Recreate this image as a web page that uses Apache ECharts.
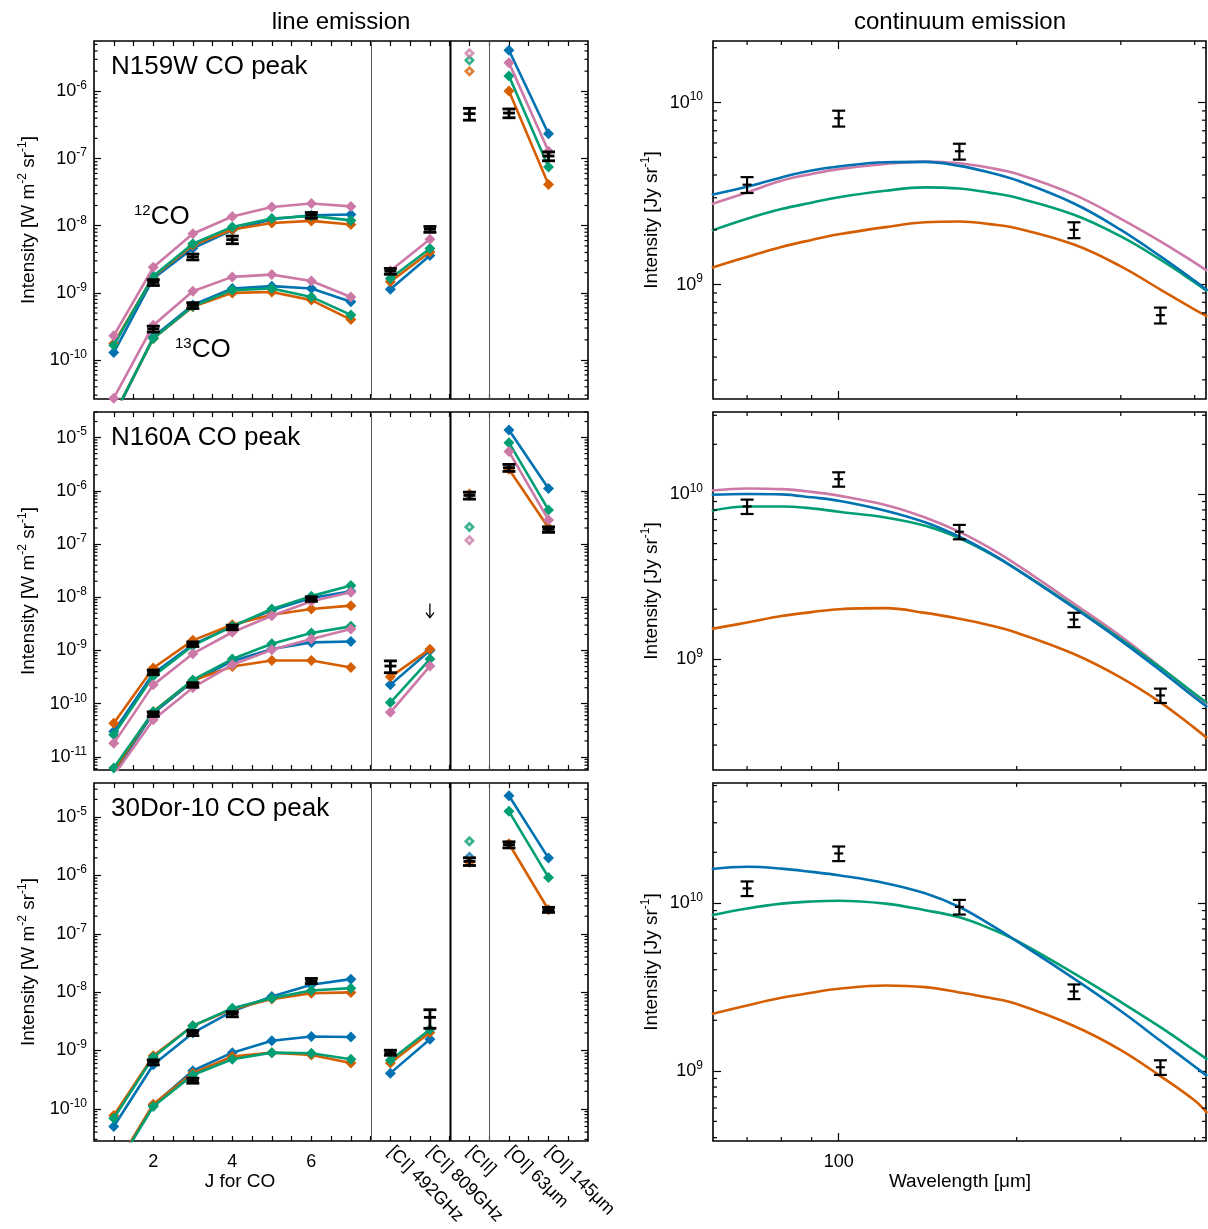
<!DOCTYPE html>
<html>
<head>
<meta charset="utf-8">
<script src="https://cdn.jsdelivr.net/npm/echarts@6/dist/echarts.min.js"></script>
<style>
  html, body { margin: 0; padding: 0; background: #fff; }
  #chart { width: 1208px; height: 1229px; }
</style>
</head>
<body>
<div id="chart"></div>
<script>
// ---------- shared categories ----------
const modelColors = ['#0072B2', '#D55E00', '#009E73', '#CC79A7']; // blue, orange, green, pink models
const coJ = [1, 2, 3, 4, 5, 6, 7];
const ciPos = [8, 9];
const ciiPos = 10;
const oiPos = [11, 12];
const jTickLabels = [2, 4, 6];
const lineLabelPos = [8, 9, 10, 11, 12];
const lineLabels = ['[CI] 492GHz', '[CI] 809GHz', '[CII]', '[OI] 63μm', '[OI] 145μm'];
const rowTitles = ['N159W CO peak', 'N160A CO peak', '30Dor-10 CO peak'];

// ---------- N159W: line intensities [W m^-2 sr^-1] ----------
const n159wCO12 = [
  [1.29e-10, 1.64e-9, 4.6e-9, 8.6e-9, 1.25e-8, 1.43e-8, 1.47e-8],
  [1.77e-10, 1.74e-9, 5.1e-9, 8.8e-9, 1.1e-8, 1.18e-8, 1.04e-8],
  [1.66e-10, 1.78e-9, 5.4e-9, 9.6e-9, 1.28e-8, 1.4e-8, 1.2e-8],
  [2.3e-10, 2.4e-9, 7.6e-9, 1.37e-8, 1.9e-8, 2.14e-8, 1.94e-8]
];
const n159wCO13 = [
  [1.4e-11, 2.2e-10, 6.6e-10, 1.16e-9, 1.26e-9, 1.16e-9, 7.4e-10],
  [1.5e-11, 2.1e-10, 6.2e-10, 1.0e-9, 1.03e-9, 7.8e-10, 4.0e-10],
  [1.5e-11, 2.1e-10, 6.3e-10, 1.1e-9, 1.16e-9, 8.7e-10, 4.7e-10],
  [2.7e-11, 3.3e-10, 1.06e-9, 1.73e-9, 1.87e-9, 1.5e-9, 8.7e-10]
];
const n159wCI = [[1.13e-9, 3.6e-9], [1.46e-9, 4.07e-9], [1.64e-9, 4.57e-9], [2.13e-9, 6.3e-9]];
const n159wCII = [null, 2.0e-6, 2.9e-6, 3.7e-6];
const n159wOI = [[4.1e-6, 2.34e-7], [1.01e-6, 4.1e-8], [1.69e-6, 7.5e-8], [2.67e-6, 1.28e-7]];
const n159wObsX = [2, 3, 4, 6, 2, 3, 8, 9, 10, 11, 12];
const n159wObs = [1.43e-9, 3.44e-9, 6.2e-9, 1.43e-8, 2.9e-10, 6.5e-10, 2.1e-9, 8.85e-9, 4.66e-7, 4.76e-7, 1.09e-7];
const n159wObsErr = [0.1, 0.1, 0.13, 0.1, 0.1, 0.1, 0.1, 0.1, 0.2, 0.15, 0.15];

// ---------- N160A ----------
const n160aCO12 = [
  [3.0e-11, 3.7e-10, 1.29e-9, 2.84e-9, 5.7e-9, 9.7e-9, 1.29e-8],
  [4.3e-11, 4.7e-10, 1.55e-9, 3.05e-9, 4.7e-9, 6.0e-9, 6.95e-9],
  [2.6e-11, 3.3e-10, 1.23e-9, 2.84e-9, 6.0e-9, 1.05e-8, 1.66e-8],
  [1.8e-11, 2.26e-10, 8.7e-10, 2.2e-9, 4.5e-9, 8.4e-9, 1.24e-8]
];
const n160aCO13 = [
  [5.0e-12, 6.6e-11, 2.63e-10, 6.3e-10, 1.07e-9, 1.42e-9, 1.48e-9],
  [5.5e-12, 7.1e-11, 2.74e-10, 5.0e-10, 6.5e-10, 6.5e-10, 4.8e-10],
  [6.2e-12, 7.1e-11, 2.8e-10, 6.9e-10, 1.34e-9, 2.13e-9, 2.84e-9],
  [4.5e-12, 5.0e-11, 2.0e-10, 5.4e-10, 1.03e-9, 1.64e-9, 2.53e-9]
];
const n160aCI = [[2.26e-10, 1.0e-9], [3.2e-10, 1.06e-9], [1.05e-10, 6.9e-10], [6.9e-11, 5.1e-10]];
const n160aCII = [8.2e-7, 8.8e-7, 2.09e-7, 1.18e-7];
const n160aOI = [[1.39e-5, 1.1e-6], [2.54e-6, 2.02e-7], [8.0e-6, 4.37e-7], [5.45e-6, 2.83e-7]];
const n160aObsX = [2, 3, 4, 6, 2, 3, 8, 10, 11, 12];
const n160aObs = [3.9e-10, 1.32e-9, 2.72e-9, 9.3e-9, 6.4e-11, 2.26e-10, 5.1e-10, 8.2e-7, 2.72e-6, 1.88e-7];
const n160aObsErr = [0.1, 0.1, 0.1, 0.1, 0.1, 0.1, 0.25, 0.15, 0.15, 0.12];
const n160aLimitX = [9];
const n160aLimit = [7.6e-9];

// ---------- 30Dor-10 ----------
const dor30CO12 = [
  [5.0e-11, 5.7e-10, 2.0e-9, 4.7e-9, 8.4e-9, 1.34e-8, 1.67e-8],
  [7.7e-11, 8.1e-10, 2.65e-9, 5.1e-9, 7.6e-9, 9.6e-9, 9.9e-9],
  [6.9e-11, 7.7e-10, 2.65e-9, 5.3e-9, 7.9e-9, 1.07e-8, 1.17e-8]
];
const dor30CO13 = [
  [9.0e-12, 1.17e-10, 4.5e-10, 9.2e-10, 1.47e-9, 1.74e-9, 1.7e-9],
  [9.0e-12, 1.2e-10, 4.1e-10, 7.9e-10, 9.2e-10, 8.4e-10, 6.1e-10],
  [8.5e-12, 1.1e-10, 3.8e-10, 7.1e-10, 9.2e-10, 9.0e-10, 7.1e-10]
];
const dor30CI = [[4.1e-10, 1.56e-9], [6.1e-10, 2.04e-9], [6.8e-10, 2.3e-9]];
const dor30CII = [2.06e-6, 1.67e-6, 3.83e-6];
const dor30OI = [[2.32e-5, 1.98e-6], [3.49e-6, 2.58e-7], [1.25e-5, 9.25e-7]];
const dor30ObsX = [2, 3, 4, 6, 3, 8, 9, 10, 11, 12];
const dor30Obs = [6.3e-10, 2.0e-9, 4.2e-9, 1.56e-8, 3.06e-10, 9.2e-10, 3.7e-9, 1.74e-6, 3.36e-6, 2.58e-7];
const dor30ObsErr = [0.1, 0.1, 0.1, 0.1, 0.1, 0.1, 0.35, 0.15, 0.12, 0.1];

// ---------- dust continuum [Jy sr^-1] ----------
const contWave = [61, 70, 80, 90, 100, 120, 140, 160, 180, 200, 250, 300, 350, 400, 420];
const n159wDust = [
  [3.12e9, 3.45e9, 3.88e9, 4.23e9, 4.45e9, 4.7e9, 4.72e9, 4.49e9, 4.13e9, 3.74e9, 2.79e9, 2.0e9, 1.43e9, 1.05e9, 9.3e8],
  [1.24e9, 1.42e9, 1.61e9, 1.76e9, 1.89e9, 2.07e9, 2.2e9, 2.22e9, 2.15e9, 2.04e9, 1.66e9, 1.26e9, 9.4e8, 7.3e8, 6.7e8],
  [1.98e9, 2.3e9, 2.6e9, 2.82e9, 3.02e9, 3.28e9, 3.42e9, 3.37e9, 3.2e9, 3.0e9, 2.42e9, 1.84e9, 1.37e9, 1.03e9, 9.2e8],
  [2.77e9, 3.21e9, 3.72e9, 4.05e9, 4.31e9, 4.6e9, 4.74e9, 4.64e9, 4.38e9, 4.06e9, 3.12e9, 2.3e9, 1.73e9, 1.32e9, 1.19e9]
];
const n160aDust = [
  [9.9e9, 1.0e10, 9.94e9, 9.54e9, 9.1e9, 7.92e9, 6.73e9, 5.5e9, 4.4e9, 3.49e9, 2.04e9, 1.29e9, 8.5e8, 5.83e8, 5.1e8],
  [1.52e9, 1.66e9, 1.82e9, 1.92e9, 2.0e9, 2.03e9, 1.9e9, 1.75e9, 1.6e9, 1.44e9, 1.07e9, 7.7e8, 5.45e8, 3.8e8, 3.3e8],
  [7.92e9, 8.4e9, 8.4e9, 8.18e9, 7.8e9, 7.2e9, 6.41e9, 5.39e9, 4.36e9, 3.49e9, 2.07e9, 1.32e9, 8.86e8, 6.14e8, 5.4e8],
  [1.05e10, 1.08e10, 1.07e10, 1.03e10, 9.77e9, 8.57e9, 7.2e9, 5.89e9, 4.71e9, 3.73e9, 2.16e9, 1.37e9, 8.9e8, 6.05e8, 5.3e8]
];
const dor30Dust = [
  [1.59e10, 1.64e10, 1.6e10, 1.53e10, 1.46e10, 1.31e10, 1.14e10, 9.45e9, 7.47e9, 5.92e9, 3.54e9, 2.27e9, 1.51e9, 1.06e9, 9.3e8],
  [2.18e9, 2.45e9, 2.72e9, 2.92e9, 3.08e9, 3.22e9, 3.15e9, 2.93e9, 2.72e9, 2.5e9, 1.85e9, 1.33e9, 9.3e8, 6.65e8, 5.6e8],
  [8.44e9, 9.25e9, 9.9e9, 1.02e10, 1.03e10, 9.9e9, 9.04e9, 8.2e9, 7.05e9, 5.95e9, 3.8e9, 2.57e9, 1.82e9, 1.32e9, 1.17e9]
];
const obsWave = [70, 100, 160, 250, 350];
const n159wDustObs = [3.54e9, 8.2e9, 5.4e9, 2.0e9, 6.8e8];
const n160aDustObs = [8.4e9, 1.23e10, 5.9e9, 1.73e9, 6.0e8];
const dor30DustObs = [1.22e10, 1.97e10, 9.47e9, 2.97e9, 1.05e9];
const dustObsErr = [0.1, 0.1, 0.1, 0.1, 0.1];

// ---------- axis ranges (log10 units) ----------
const lineYRange = [[-10.58, -5.25], [-11.245, -4.52], [-10.55, -4.417]];
const contYRange = [[8.372, 10.338], [8.326, 10.497], [8.582, 10.714]];
const waveRange = [61.3, 418];
const waveMinorTicks = [70, 80, 90, 200, 300, 400];
const waveMajorTicks = [100];
const sectionBreaks = [7.5, 9.5, 10.5];

// ---------- layout ----------
const FONT = '"Liberation Sans", Arial, Helvetica, sans-serif';
const INK = '#000';
const rowTops = [41, 412, 783];
const rowH = 358;
const LEFT_X = 94, LEFT_W = 494, RIGHT_X = 713, RIGHT_W = 493;

const lg = Math.log10;
const grids = [], xAxes = [], yAxes = [], series = [], graphics = [];

function decadesIn(lo, hi) {
  const out = [];
  for (let d = Math.ceil(lo); d <= Math.floor(hi); d++) out.push(d);
  return out;
}
function minorLogTicks(lo, hi) {
  const out = [];
  for (let d = Math.floor(lo); d <= Math.ceil(hi); d++) {
    for (let k = 2; k <= 9; k++) {
      const v = d + lg(k);
      if (v > lo && v < hi) out.push(v);
    }
  }
  return out;
}
function supRich(size, supSize) {
  return {
    b: { fontSize: size, fontFamily: FONT, color: '#000', fill: '#000', lineHeight: Math.round(size * 1.25) },
    s: { fontSize: supSize, fontFamily: FONT, color: '#000', fill: '#000', lineHeight: Math.round(supSize * 0.85), verticalAlign: 'top' }
  };
}

// short ticks drawn at both edges of a panel (log minor ticks etc.)
function edgeTickSeries(xi, yi, yTicks, xTicks, xRef, yRef, lenY, lenX) {
  const data = yTicks.map(v => [xRef, v, 0]).concat(xTicks.map(v => [v, yRef, 1]));
  return {
    type: 'custom', xAxisIndex: xi, yAxisIndex: yi, silent: true, animation: false, z: 6,
    encode: { x: 0, y: 1 }, data,
    renderItem(params, api) {
      const cs = params.coordSys;
      const p = api.coord([api.value(0), api.value(1)]);
      const style = { stroke: INK, lineWidth: 1.2, fill: null };
      if (api.value(2) === 0) {
        return { type: 'group', children: [
          { type: 'line', shape: { x1: cs.x, y1: p[1], x2: cs.x + lenY, y2: p[1] }, style },
          { type: 'line', shape: { x1: cs.x + cs.width, y1: p[1], x2: cs.x + cs.width - lenY, y2: p[1] }, style }
        ] };
      }
      return { type: 'group', children: [
        { type: 'line', shape: { x1: p[0], y1: cs.y, x2: p[0], y2: cs.y + lenX }, style },
        { type: 'line', shape: { x1: p[0], y1: cs.y + cs.height, x2: p[0], y2: cs.y + cs.height - lenX }, style }
      ] };
    }
  };
}

// observed values with error bars
function errorBarSeries(xi, yi, xs, vals, errs, cap, mid, lw) {
  const data = xs.map((x, i) => [x, lg(vals[i]), lg(vals[i] * (1 - errs[i])), lg(vals[i] * (1 + errs[i]))]);
  return {
    type: 'custom', xAxisIndex: xi, yAxisIndex: yi, silent: true, animation: false, z: 10,
    encode: { x: 0, y: 1 }, data,
    renderItem(params, api) {
      const x = api.value(0);
      const c = api.coord([x, api.value(1)]);
      const lo = api.coord([x, api.value(2)]);
      const hi = api.coord([x, api.value(3)]);
      const style = { stroke: '#000', lineWidth: lw, fill: null };
      const seg = (x1, y1, x2, y2) => ({ type: 'line', shape: { x1, y1, x2, y2 }, style });
      return { type: 'group', children: [
        seg(c[0], lo[1], c[0], hi[1]),
        seg(c[0] - cap, lo[1], c[0] + cap, lo[1]),
        seg(c[0] - cap, hi[1], c[0] + cap, hi[1]),
        seg(c[0] - mid, c[1], c[0] + mid, c[1])
      ] };
    }
  };
}

function upperLimitSeries(xi, yi, xs, vals) {
  return {
    type: 'custom', xAxisIndex: xi, yAxisIndex: yi, silent: true, animation: false, z: 10,
    encode: { x: 0, y: 1 }, data: xs.map((x, i) => [x, lg(vals[i])]),
    renderItem(params, api) {
      const p = api.coord([api.value(0), api.value(1)]);
      const len = 14, head = 4;
      const style = { stroke: '#000', lineWidth: 1.3, fill: null };
      return { type: 'group', children: [
        { type: 'line', shape: { x1: p[0], y1: p[1], x2: p[0], y2: p[1] + len }, style },
        { type: 'polyline', shape: { points: [[p[0] - head, p[1] + len - head - 1], [p[0], p[1] + len], [p[0] + head, p[1] + len - head - 1]] }, style }
      ] };
    }
  };
}

function sectionBreakSeries(xi, yi, yRef) {
  return {
    type: 'custom', xAxisIndex: xi, yAxisIndex: yi, silent: true, animation: false, z: 4,
    encode: { x: 0, y: 1 }, data: sectionBreaks.map((x, i) => [x, yRef, i === 1 ? 2 : 1]),
    renderItem(params, api) {
      const cs = params.coordSys;
      const px = Math.round(api.coord([api.value(0), api.value(1)])[0]) + 0.5;
      const w = api.value(2);
      return { type: 'line', shape: { x1: px, y1: cs.y, x2: px, y2: cs.y + cs.height },
        style: { stroke: w > 1 ? '#000' : '#555', lineWidth: w } };
    }
  };
}

function modelLine(xi, yi, xs, vals, color, z) {
  const data = [];
  xs.forEach((x, i) => { if (vals[i] != null) data.push([x, lg(vals[i])]); });
  return {
    type: 'line', xAxisIndex: xi, yAxisIndex: yi, data, animation: false, silent: true, z,
    symbol: 'diamond', symbolSize: 11, showSymbol: true, clip: true,
    lineStyle: { color, width: 2.6 }, itemStyle: { color }
  };
}

function tickStyle(len) {
  return { show: true, inside: true, length: len, lineStyle: { color: INK, width: 1.2 } };
}

// ---------- one row of the line-emission column ----------
function buildLineRow(r, d) {
  const [yLo, yHi] = lineYRange[r];
  const showX = r === 2;
  const gi = grids.length;
  grids.push({ left: LEFT_X, top: rowTops[r], width: LEFT_W, height: rowH, show: true,
    borderColor: INK, borderWidth: 1.6, backgroundColor: 'transparent' });
  const halfTicks = [];
  for (let v = 1; v <= 12.5; v += 0.5) halfTicks.push(v);

  const xb = xAxes.length;
  xAxes.push({ gridIndex: gi, type: 'value', position: 'bottom', min: 0.5, max: 13,
    axisLine: { show: false }, splitLine: { show: false },
    axisTick: Object.assign(tickStyle(5), { customValues: halfTicks }),
    axisLabel: showX ? { show: true, customValues: jTickLabels, fontSize: 18, color: '#000', margin: 12, fontFamily: FONT }
                     : { show: false } });
  xAxes.push({ gridIndex: gi, type: 'value', position: 'top', min: 0.5, max: 13,
    axisLine: { show: false }, splitLine: { show: false },
    axisTick: Object.assign(tickStyle(5), { customValues: halfTicks }), axisLabel: { show: false } });
  if (showX) {
    xAxes.push({ gridIndex: gi, type: 'value', position: 'bottom', min: 0.5, max: 13,
      axisLine: { show: false }, splitLine: { show: false }, axisTick: { show: false },
      axisLabel: { show: true, customValues: lineLabelPos, rotate: -45, margin: 8, fontSize: 18,
        color: '#000', fontFamily: FONT, formatter: v => lineLabels[lineLabelPos.indexOf(v)] } });
  }

  const dec = decadesIn(yLo, yHi);
  const yl = yAxes.length;
  yAxes.push({ gridIndex: gi, type: 'value', position: 'left', min: yLo, max: yHi,
    axisLine: { show: false }, splitLine: { show: false },
    axisTick: Object.assign(tickStyle(7), { customValues: dec }),
    axisLabel: { show: true, customValues: dec, margin: 7, formatter: v => '{b|10}{s|' + v + '}', rich: supRich(18, 12) } });
  yAxes.push({ gridIndex: gi, type: 'value', position: 'right', min: yLo, max: yHi,
    axisLine: { show: false }, splitLine: { show: false },
    axisTick: Object.assign(tickStyle(7), { customValues: dec }), axisLabel: { show: false } });

  series.push(edgeTickSeries(xb, yl, minorLogTicks(yLo, yHi), [], 0.5, yLo, 3.5, 0));
  series.push(sectionBreakSeries(xb, yl, yLo));

  d.co12.forEach((vals, m) => {
    const c = modelColors[m];
    series.push(modelLine(xb, yl, coJ, vals, c, 3 + m * 0.1));
    series.push(modelLine(xb, yl, coJ, d.co13[m], c, 3 + m * 0.1));
    series.push(modelLine(xb, yl, ciPos, d.ci[m], c, 3 + m * 0.1));
    series.push(modelLine(xb, yl, oiPos, d.oi[m], c, 3 + m * 0.1));
    if (d.cii[m] != null) {
      const pt = [[ciiPos, lg(d.cii[m])]];
      // [CII] predictions: solid diamond with a pale core
      series.push({ type: 'scatter', xAxisIndex: xb, yAxisIndex: yl, animation: false, silent: true, z: 3 + m * 0.1,
        data: pt, symbol: 'diamond', symbolSize: 11, itemStyle: { color: c } });
      series.push({ type: 'scatter', xAxisIndex: xb, yAxisIndex: yl, animation: false, silent: true, z: 3.05 + m * 0.1,
        data: pt, symbol: 'diamond', symbolSize: 4, itemStyle: { color: '#f4f4f4' } });
    }
  });
  series.push(errorBarSeries(xb, yl, d.obsX, d.obs, d.obsErr, 6.5, 6, 2.8));
  if (d.limX) series.push(upperLimitSeries(xb, yl, d.limX, d.lim));

  graphics.push({ type: 'text', x: LEFT_X + 17, y: rowTops[r] + 26, silent: true,
    style: { text: rowTitles[r], fontSize: 26, fontFamily: FONT, fill: '#000', textAlign: 'left', textVerticalAlign: 'middle' } });
  graphics.push({ type: 'text', x: 29, y: rowTops[r] + rowH / 2, rotation: Math.PI / 2, silent: true,
    style: { text: '{n|Intensity [W m}{s|-2}{n| sr}{s|-1}{n|]}', textAlign: 'center', textVerticalAlign: 'middle',
      fontSize: 19, fontFamily: FONT, fill: '#000', rich: {
        n: { fontSize: 19, fontFamily: FONT, fill: '#000', lineHeight: 24 },
        s: { fontSize: 12, fontFamily: FONT, fill: '#000', lineHeight: 10, verticalAlign: 'top' } } } });
}

// ---------- one row of the continuum column ----------
function buildContRow(r, curves, obs) {
  const [yLo, yHi] = contYRange[r];
  const xLo = lg(waveRange[0]), xHi = lg(waveRange[1]);
  const showX = r === 2;
  const gi = grids.length;
  grids.push({ left: RIGHT_X, top: rowTops[r], width: RIGHT_W, height: rowH, show: true,
    borderColor: INK, borderWidth: 1.6, backgroundColor: 'transparent' });
  const major = waveMajorTicks.map(lg);
  const xb = xAxes.length;
  xAxes.push({ gridIndex: gi, type: 'value', position: 'bottom', min: xLo, max: xHi,
    axisLine: { show: false }, splitLine: { show: false },
    axisTick: Object.assign(tickStyle(8), { customValues: major }),
    axisLabel: showX ? { show: true, customValues: major, fontSize: 18, color: '#000', margin: 12, fontFamily: FONT,
      formatter: v => String(Math.round(Math.pow(10, v))) } : { show: false } });
  xAxes.push({ gridIndex: gi, type: 'value', position: 'top', min: xLo, max: xHi,
    axisLine: { show: false }, splitLine: { show: false },
    axisTick: Object.assign(tickStyle(8), { customValues: major }), axisLabel: { show: false } });

  const dec = decadesIn(yLo, yHi);
  const yl = yAxes.length;
  yAxes.push({ gridIndex: gi, type: 'value', position: 'left', min: yLo, max: yHi,
    axisLine: { show: false }, splitLine: { show: false },
    axisTick: Object.assign(tickStyle(8), { customValues: dec }),
    axisLabel: { show: true, customValues: dec, margin: 10, formatter: v => '{b|10}{s|' + v + '}', rich: supRich(18, 12) } });
  yAxes.push({ gridIndex: gi, type: 'value', position: 'right', min: yLo, max: yHi,
    axisLine: { show: false }, splitLine: { show: false },
    axisTick: Object.assign(tickStyle(8), { customValues: dec }), axisLabel: { show: false } });

  series.push(edgeTickSeries(xb, yl, minorLogTicks(yLo, yHi), waveMinorTicks.map(lg), xLo, yLo, 4, 4));

  const order = [1, 3, 2, 0].filter(m => m < curves.length);
  order.forEach(m => {
    const c = modelColors[m];
    series.push({ type: 'line', xAxisIndex: xb, yAxisIndex: yl, animation: false, silent: true, z: 3,
      data: contWave.map((w, i) => [lg(w), lg(curves[m][i])]), showSymbol: false, symbol: 'none',
      smooth: 0.4, clip: true, lineStyle: { color: c, width: 2.6 } });
  });
  series.push(errorBarSeries(xb, yl, obsWave.map(lg), obs, dustObsErr, 6.5, 4.5, 2.2));

  graphics.push({ type: 'text', x: 652, y: rowTops[r] + rowH / 2, rotation: Math.PI / 2, silent: true,
    style: { text: '{n|Intensity [Jy sr}{s|-1}{n|]}', textAlign: 'center', textVerticalAlign: 'middle',
      fontSize: 19, fontFamily: FONT, fill: '#000', rich: {
        n: { fontSize: 19, fontFamily: FONT, fill: '#000', lineHeight: 24 },
        s: { fontSize: 12, fontFamily: FONT, fill: '#000', lineHeight: 10, verticalAlign: 'top' } } } });
}

buildLineRow(0, { co12: n159wCO12, co13: n159wCO13, ci: n159wCI, cii: n159wCII, oi: n159wOI,
  obsX: n159wObsX, obs: n159wObs, obsErr: n159wObsErr });
buildContRow(0, n159wDust, n159wDustObs);
buildLineRow(1, { co12: n160aCO12, co13: n160aCO13, ci: n160aCI, cii: n160aCII, oi: n160aOI,
  obsX: n160aObsX, obs: n160aObs, obsErr: n160aObsErr, limX: n160aLimitX, lim: n160aLimit });
buildContRow(1, n160aDust, n160aDustObs);
buildLineRow(2, { co12: dor30CO12, co13: dor30CO13, ci: dor30CI, cii: dor30CII, oi: dor30OI,
  obsX: dor30ObsX, obs: dor30Obs, obsErr: dor30ObsErr });
buildContRow(2, dor30Dust, dor30DustObs);

// column headings, isotope tags and axis titles
graphics.push({ type: 'text', x: 341, y: 22, silent: true,
  style: { text: 'line emission', fontSize: 24, fontFamily: FONT, fill: '#000', textAlign: 'center', textVerticalAlign: 'middle' } });
graphics.push({ type: 'text', x: 960, y: 22, silent: true,
  style: { text: 'continuum emission', fontSize: 24, fontFamily: FONT, fill: '#000', textAlign: 'center', textVerticalAlign: 'middle' } });
const isoRich = {
  c: { fontSize: 26, fontFamily: FONT, fill: '#000', lineHeight: 28 },
  s: { fontSize: 15, fontFamily: FONT, fill: '#000', lineHeight: 10, verticalAlign: 'top' }
};
graphics.push({ type: 'text', x: 134, y: 217, silent: true,
  style: { text: '{s|12}{c|CO}', rich: isoRich, textAlign: 'left', textVerticalAlign: 'middle', fontFamily: FONT } });
graphics.push({ type: 'text', x: 175, y: 350, silent: true,
  style: { text: '{s|13}{c|CO}', rich: isoRich, textAlign: 'left', textVerticalAlign: 'middle', fontFamily: FONT } });
graphics.push({ type: 'text', x: 240, y: 1182, silent: true,
  style: { text: 'J for CO', fontSize: 19, fontFamily: FONT, fill: '#000', textAlign: 'center', textVerticalAlign: 'middle' } });
graphics.push({ type: 'text', x: 960, y: 1182, silent: true,
  style: { text: 'Wavelength [μm]', fontSize: 19, fontFamily: FONT, fill: '#000', textAlign: 'center', textVerticalAlign: 'middle' } });

const chart = echarts.init(document.getElementById('chart'), null, { renderer: 'canvas' });
chart.setOption({
  backgroundColor: '#fff',
  animation: false,
  textStyle: { fontFamily: FONT },
  grid: grids,
  xAxis: xAxes,
  yAxis: yAxes,
  series: series,
  graphic: { elements: graphics }
});
</script>
</body>
</html>
